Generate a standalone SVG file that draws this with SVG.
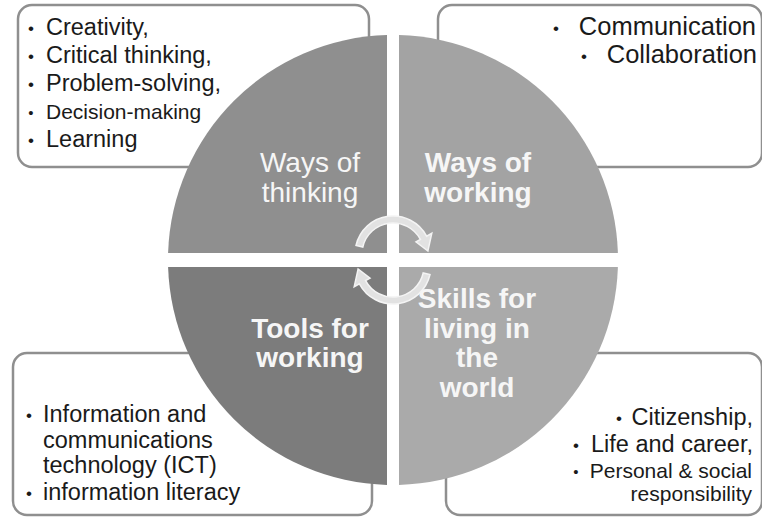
<svg xmlns="http://www.w3.org/2000/svg" width="762" height="520" viewBox="0 0 762 520">
<style>
  .box{fill:#ffffff;stroke:#8f8f8f;stroke-width:2.5}
  .bt{font-family:"Liberation Sans",Arial,sans-serif;fill:#1a1a1a}
  .bu{font-size:17px;text-anchor:middle}
  .bs{font-size:15px;text-anchor:middle}
  .ql{font-family:"Liberation Sans",Arial,sans-serif;font-size:28px;fill:#f6f6f6;text-anchor:middle}
  .qb{font-weight:bold}
  .arr{fill:#e2e2e2;stroke:#f4f4f4;stroke-width:1.5}
</style>
<rect width="762" height="520" fill="#ffffff"/>

<g id="box-thinking">
  <rect class="box" x="18" y="5" width="351" height="162" rx="14"/>
</g>
<g id="box-working">
  <rect class="box" x="438" y="5" width="324" height="162" rx="14"/>
</g>
<g id="box-tools">
  <rect class="box" x="13" y="353" width="359" height="162" rx="14"/>
</g>
<g id="box-living">
  <rect class="box" x="446" y="353" width="316" height="162" rx="14"/>
</g>

<g id="q-thinking">
  <path d="M387,253 L387,35.1 A225,225 0 0 0 168.1,253 Z" fill="#8f8f8f"/>
  <text class="ql"><tspan x="310" y="172">Ways of</tspan><tspan x="310" y="202">thinking</tspan></text>
</g>
<g id="q-working">
  <path d="M399,253 L399,35.1 A225,225 0 0 1 617.9,253 Z" fill="#a3a3a3"/>
  <text class="ql qb"><tspan x="478" y="172">Ways of</tspan><tspan x="478" y="202">working</tspan></text>
</g>
<g id="q-tools">
  <path d="M387,267 L168.1,267 A225,225 0 0 0 387,484.9 Z" fill="#7c7c7c"/>
  <text class="ql qb"><tspan x="310" y="338">Tools for</tspan><tspan x="310" y="367">working</tspan></text>
</g>
<g id="q-living">
  <path d="M399,267 L617.9,267 A225,225 0 0 1 399,484.9 Z" fill="#aaaaaa"/>
  <text class="ql qb"><tspan x="477" y="308">Skills for</tspan><tspan x="477" y="338">living in</tspan><tspan x="477" y="367">the</tspan><tspan x="477" y="397">world</tspan></text>
</g>

<g id="connectors">
  <path class="arr" d="M356,245.5 A38,38 0 0 1 426.6,236.2 L431.8,233.3 L427.9,251 L416,241.8 L420.4,239.4 A31,31 0 0 0 362.8,247 Z"/>
  <path class="arr" transform="rotate(180 393 260)" d="M356,245.5 A38,38 0 0 1 426.6,236.2 L431.8,233.3 L427.9,251 L416,241.8 L420.4,239.4 A31,31 0 0 0 362.8,247 Z"/>
</g>

<g id="text-thinking" class="bt">
  <text x="31" y="34" class="bu">•</text>
  <text x="46" y="35" font-size="23.5">Creativity,</text>
  <text x="31" y="62" class="bu">•</text>
  <text x="46" y="63" font-size="23.5">Critical thinking,</text>
  <text x="31" y="90" class="bu">•</text>
  <text x="46" y="91" font-size="23.5">Problem-solving,</text>
  <text x="31" y="118" class="bs">•</text>
  <text x="46" y="119" font-size="21">Decision-making</text>
  <text x="31" y="146" class="bu">•</text>
  <text x="46" y="147" font-size="23.5">Learning</text>
</g>

<g id="text-working" class="bt">
  <text x="556" y="34" class="bu">•</text>
  <text x="756" y="35" font-size="25.5" text-anchor="end">Communication</text>
  <text x="584" y="62" class="bu">•</text>
  <text x="757" y="63" font-size="25.5" text-anchor="end">Collaboration</text>
</g>

<g id="text-tools" class="bt">
  <text x="29" y="421" class="bu">•</text>
  <text x="43" y="422" font-size="23.5">Information and</text>
  <text x="43" y="448" font-size="23.5">communications</text>
  <text x="43" y="473" font-size="23.5">technology (ICT)</text>
  <text x="29" y="499" class="bu">•</text>
  <text x="43" y="500" font-size="23.5">information literacy</text>
</g>

<g id="text-living" class="bt">
  <text x="619" y="424" class="bu">•</text>
  <text x="753" y="425" font-size="23.5" text-anchor="end">Citizenship,</text>
  <text x="576" y="451" class="bu">•</text>
  <text x="753" y="452" font-size="23.5" text-anchor="end">Life and career,</text>
  <text x="576" y="477" class="bs">•</text>
  <text x="752" y="478" font-size="21" text-anchor="end">Personal &amp; social</text>
  <text x="752" y="501" font-size="21" text-anchor="end">responsibility</text>
</g>
</svg>
